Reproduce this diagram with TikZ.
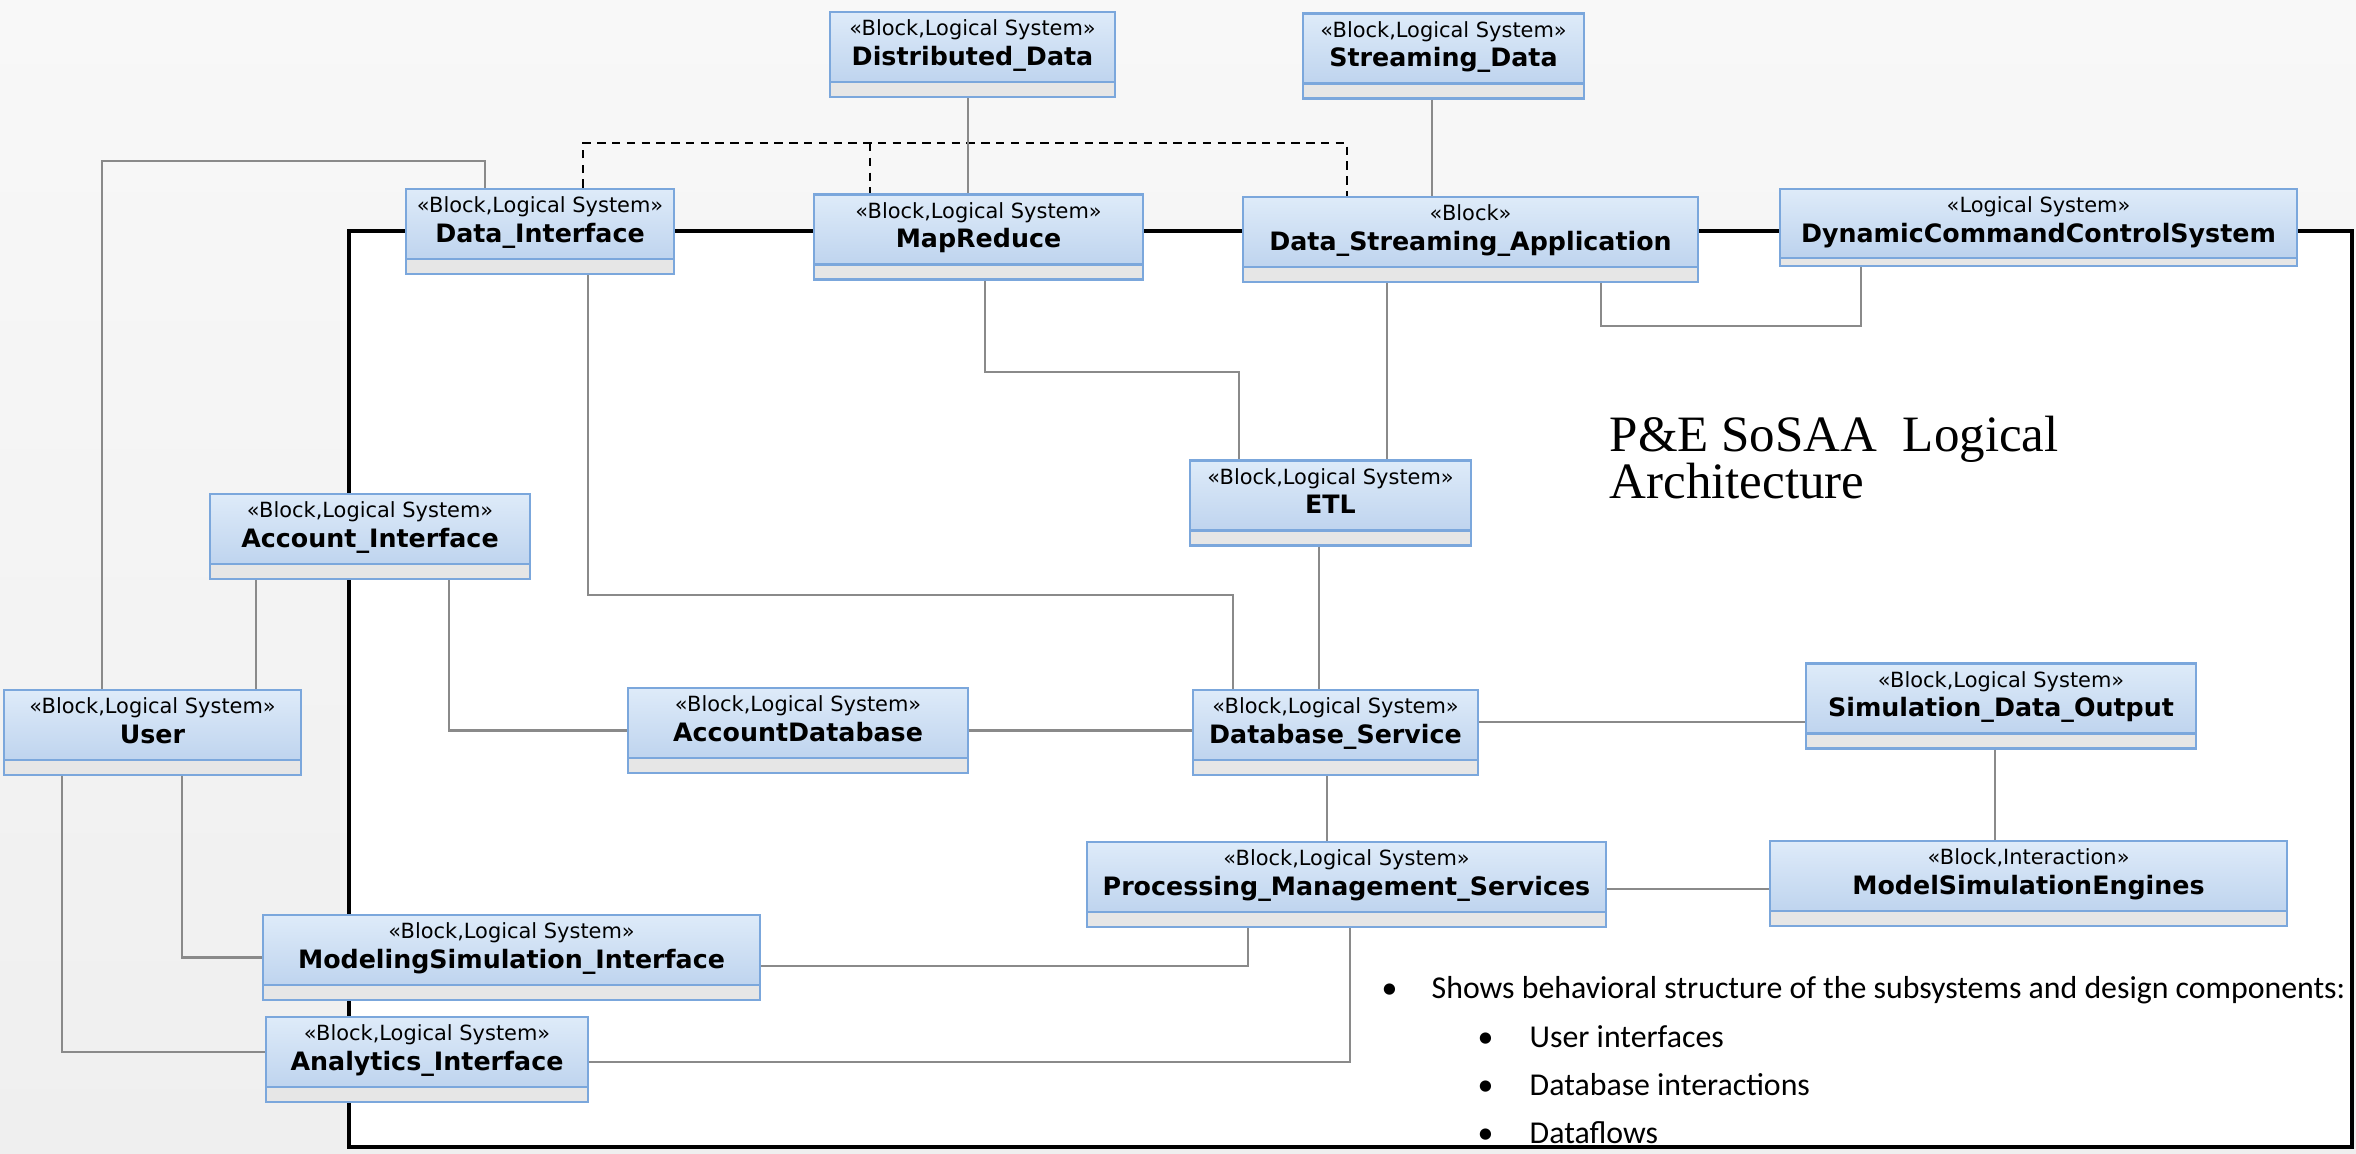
\documentclass[tikz,border=0pt]{standalone}
\usepackage{fontspec}
\usepackage{tikz}
\usetikzlibrary{positioning}
\newfontfamily\uifont{DejaVu Sans}
\newfontfamily\titlefont{Liberation Serif}
\newfontfamily\notefont{Carlito}
\definecolor{bdr}{HTML}{7BA7DC}
\definecolor{blktop}{HTML}{DEEBF9}
\definecolor{blkbot}{HTML}{B8CFEC}
\definecolor{cmpfill}{HTML}{E6E6E6}
\definecolor{linegray}{HTML}{8A8A8A}
\definecolor{bgtop}{HTML}{F8F8F8}
\definecolor{bgbot}{HTML}{EFEFEF}
\newcommand{\blktext}[4][0.85cm]{\parbox[c][#1][t]{#2}{\centering\uifont\fontsize{5.95}{8.4}\selectfont
  \rule{0pt}{6.7pt}#3\\{\bfseries\fontsize{7.2}{8.4}\selectfont #4}}}
\tikzset{cmp/.store in=\cmph, cmp=0.15cm,
         blk/.style={draw=bdr,line width=0.65pt,top color=blktop,bottom color=blkbot,inner sep=0pt,
           path picture={\fill[cmpfill](path picture bounding box.south west)rectangle([yshift=\cmph]path picture bounding box.south east);
                         \draw[bdr,line width=0.65pt]([yshift=\cmph]path picture bounding box.south west)--([yshift=\cmph]path picture bounding box.south east);}},
         conn/.style={draw=linegray,line width=0.6pt},
         dep/.style={draw=black,line width=0.6pt,dash pattern=on 2.4pt off 1.8pt},
         frm/.style={draw=black,line width=0.9pt,fill=white},
         ttl/.style={anchor=north west,align=left,inner sep=0pt,font=\titlefont\fontsize{14.5}{13.4}\selectfont},
         note/.style={anchor=west,inner sep=0pt,font=\notefont\fontsize{9.05}{11}\selectfont},
        }
\begin{document}
\begin{tikzpicture}[x=0.01cm,y=-0.01cm]
        \useasboundingbox(0,0)rectangle(2356,1153);
        \fill[top color=bgtop,bottom color=bgbot](0,0)rectangle(2356,1153);
        \draw[frm](349,231)rectangle(2352,1147);

        % blocks
        \node[blk](dd)at(972.5,54.5){\blktext{2.85cm}{«Block,Logical System»}{Distributed\_Data}};
        \node[blk](sd)at(1443.5,56){\blktext{2.81cm}{«Block,Logical System»}{Streaming\_Data}};
        \node[blk](di)at(540,231.5){\blktext{2.68cm}{«Block,Logical System»}{Data\_Interface}};
        \node[blk](mr)at(978.5,237){\blktext{3.29cm}{«Block,Logical System»}{MapReduce}};
        \node[blk](dsa)at(1470.5,239.5){\blktext{4.55cm}{«Block»}{Data\_Streaming\_Application}};
        \node[blk,cmp=0.08cm](dccs)at(2038.5,227.5){\blktext[0.77cm]{5.17cm}{«Logical System»}{DynamicCommandControlSystem}};
        \node[blk](etl)at(1330.5,503){\blktext{2.81cm}{«Block,Logical System»}{ETL}};
        \node[blk](ai)at(370,536.5){\blktext{3.2cm}{«Block,Logical System»}{Account\_Interface}};
        \node[blk](user)at(152.5,732.5){\blktext{2.97cm}{«Block,Logical System»}{User}};
        \node[blk](adb)at(798,730.5){\blktext{3.4cm}{«Block,Logical System»}{AccountDatabase}};
        \node[blk](dbs)at(1335.5,732.5){\blktext{2.85cm}{«Block,Logical System»}{Database\_Service}};
        \node[blk](sdo)at(2001,706){\blktext{3.9cm}{«Block,Logical System»}{Simulation\_Data\_Output}};
        \node[blk](pms)at(1346.5,884.5){\blktext{5.19cm}{«Block,Logical System»}{Processing\_Management\_Services}};
        \node[blk](mse)at(2028.5,883.5){\blktext{5.17cm}{«Block,Interaction»}{ModelSimulationEngines}};
        \node[blk](msi)at(511.5,957.5){\blktext{4.97cm}{«Block,Logical System»}{ModelingSimulation\_Interface}};
        \node[blk](ani)at(427,1059.5){\blktext{3.22cm}{«Block,Logical System»}{Analytics\_Interface}};

        % dependency
        \coordinate(dj)at(870,143);
        \draw[dep](583,0|-di.north)--(583,143)--(1347,143)--(1347,0|-dsa.north);
        \draw[dep](dj)--(dj|-mr.north);

        % associations
        \draw[conn](968,0|-dd.south)--(968,0|-mr.north);
        \draw[conn](1432,0|-sd.south)--(1432,0|-dsa.north);
        \draw[conn](102,0|-user.north)--(102,161)--(485,161)--(485,0|-di.north);
        \draw[conn](588,0|-di.south)--(588,595)--(1233,595)--(1233,0|-dbs.north);
        \draw[conn](985,0|-mr.south)--(985,372)--(1239,372)--(1239,0|-etl.north);
        \draw[conn](1387,0|-dsa.south)--(1387,0|-etl.north);
        \draw[conn](1601,0|-dsa.south)--(1601,326)--(1861,326)--(1861,0|-dccs.south);
        \draw[conn](1319,0|-etl.south)--(1319,0|-dbs.north);
        \draw[conn](256,0|-ai.south)--(256,0|-user.north);
        \draw[conn](449,0|-ai.south)|-(adb.west);
        \draw[conn](adb.east)--(adb.east-|dbs.west);
        \draw[conn](dbs.east|-0,722)--(sdo.west|-0,722);
        \draw[conn](1327,0|-dbs.south)--(1327,0|-pms.north);
        \draw[conn](1995,0|-sdo.south)--(1995,0|-mse.north);
        \draw[conn](pms.east|-0,889)--(mse.west|-0,889);
        \draw[conn](182,0|-user.south)|-(msi.west);
        \draw[conn](62,0|-user.south)--(62,1052)--(ani.west|-0,1052);
        \draw[conn](msi.east|-0,966)--(1248,966)--(1248,0|-pms.south);
        \draw[conn](ani.east|-0,1062)--(1350,1062)--(1350,0|-pms.south);

        % title and notes
        \node[ttl](title)at(1609,415){P\&E SoSAA\ \ Logical\\Architecture};
        \node[note](n0)at(1381,990){\makebox[0.5cm][l]{•}Shows behavioral structure of the subsystems and design components:};
        \node[note](n1)at(1477,1037){\makebox[0.52cm][l]{•}User interfaces};
        \node[note](n2)at(1477,1085){\makebox[0.52cm][l]{•}Database interactions};
        \node[note](n3)at(1477,1133){\makebox[0.52cm][l]{•}Dataflows};
    \end{tikzpicture}
\end{document}
